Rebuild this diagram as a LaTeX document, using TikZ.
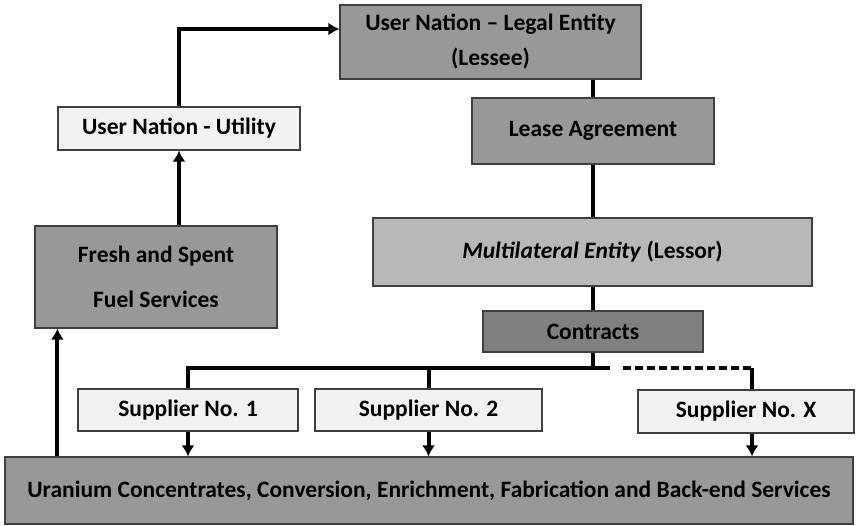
\documentclass[tikz,border=0pt]{standalone}
\usepackage{fontspec}
\setmainfont{Carlito}
\usepackage{tikz}
\usetikzlibrary{arrows.meta}
\usetikzlibrary{calc}

\definecolor{midgray}{HTML}{989898}
\definecolor{softgray}{HTML}{B8B8B8}
\definecolor{darkgray}{HTML}{808080}
\definecolor{palegray}{HTML}{F2F2F2}
\definecolor{edgegray}{HTML}{404040}

\tikzset{
  box/.style={draw=edgegray, line width=1.2pt, fill=midgray, inner sep=0pt,
    align=center, font=\fontsize{23.5}{28}\selectfont\bfseries},
  palebox/.style={box, fill=palegray},
  link/.style={line width=4pt},
  arr/.style={link, -{Latex[length=11pt,width=13pt]}}
}

\begin{document}
\begin{tikzpicture}[x=1pt,y=-1pt]
    \useasboundingbox (0,0) rectangle (856,525);
    \node[box, minimum width=301pt, minimum height=74pt] (legal) at (490.5,42)
        {User Nation -- Legal Entity\\[7pt](Lessee)};
    \node[palebox, minimum width=242pt, minimum height=43pt] (utility) at (179,128.5) {User Nation - Utility};
    \node[box, minimum width=242pt, minimum height=66pt] (lease) at (593,131) {Lease Agreement};
    \node[box, fill=softgray, minimum width=439pt, minimum height=68pt] (multi) at (592.5,252)
        {\textit{Multilateral Entity} (Lessor)};
    \node[box, minimum width=242pt, minimum height=102pt] (fresh) at (156,277)
        {Fresh and Spent\\[17pt]Fuel Services};
    \node[box, fill=darkgray, minimum width=220pt, minimum height=41pt] (contracts) at (593,331.5) {Contracts};
    \node[palebox, minimum width=220pt, minimum height=42pt] (sup1) at (188,410) {Supplier No. 1};
    \node[palebox, minimum width=227pt, minimum height=42pt] (sup2) at (428.5,410) {Supplier No. 2};
    \node[palebox, minimum width=216pt, minimum height=43pt] (supx) at (746,411.5) {Supplier No. X};
    \node[box, minimum width=848pt, minimum height=67pt] (uranium) at (429,490.5)
        {Uranium Concentrates, Conversion, Enrichment, Fabrication and Back-end Services};

    % user side
    \draw[arr] (utility.south |- fresh.north) -- (utility.south);
    \draw[arr] (utility.north) |- ([yshift=13pt]legal.west);
    \coordinate (up) at ([xshift=23pt]fresh.south west);
    \draw[arr] (up |- uranium.north) -- (up);

    % lessor side
    \draw[link] (lease.north |- legal.south) -- (lease.north);
    \draw[link] (lease.south) -- (lease.south |- multi.north);
    \draw[link] (multi.south -| contracts.north) -- (contracts.north);
    \coordinate (bus) at (610,368);
    \coordinate (dash0) at (623,368);
    \coordinate (xtop) at (752,368);
    \draw[link] (contracts.south) -- (contracts.south |- bus);
    \draw[link] (sup1.north) |- (bus);
    \draw[link] (sup2.north) -- (sup2.north |- bus);
    \draw[link, dash pattern=on 8pt off 4pt] (dash0) -- (xtop);
    \draw[link] (xtop) -- (xtop |- supx.north);

    % suppliers down
    \draw[arr] (sup1.south) -- (sup1.south |- uranium.north);
    \draw[arr] (sup2.south) -- (sup2.south |- uranium.north);
    \draw[arr] (xtop |- supx.south) -- (xtop |- uranium.north);
\end{tikzpicture}
\end{document}
